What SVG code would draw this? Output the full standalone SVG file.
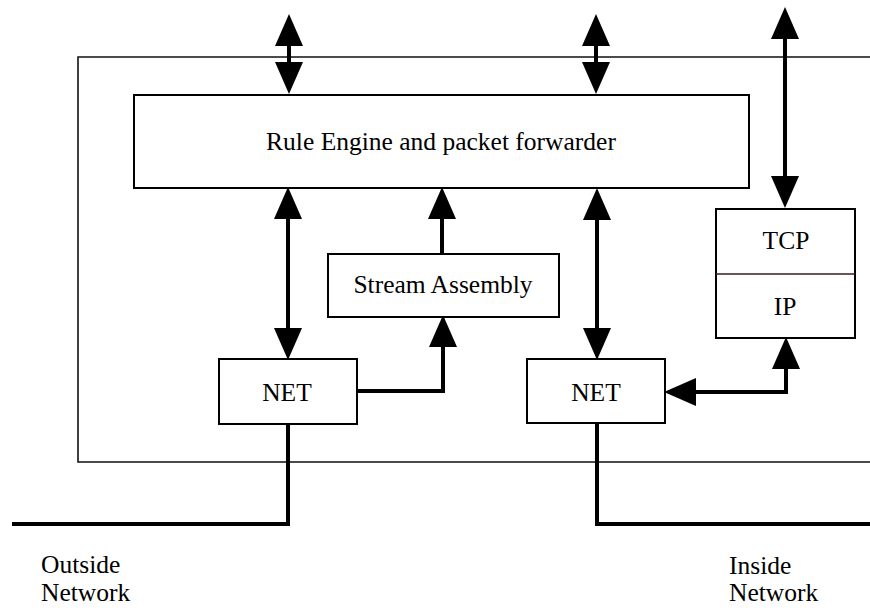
<svg xmlns="http://www.w3.org/2000/svg" width="870" height="608" viewBox="0 0 870 608">
<style>
.box{fill:#fff;stroke:#000;stroke-width:2}
text{font-family:'Liberation Serif','DejaVu Serif',serif;font-size:25.5px;fill:#000}
.mid{text-anchor:middle}
.conn{fill:none;stroke:#000;stroke-width:4}
.dbl{marker-start:url(#ah);marker-end:url(#ah)}
.one{marker-end:url(#ah)}
</style>
<defs>
<marker id="ah" markerUnits="userSpaceOnUse" markerWidth="34" markerHeight="30" refX="22" refY="14" orient="auto-start-reverse">
<path d="M0,0 L32,14 L0,28 z" fill="#000"/>
</marker>
</defs>
<rect width="870" height="608" fill="#fff"/>
<g id="frame">
<path d="M870,57 H78 V462 H870" fill="none" stroke="#111" stroke-width="1.6"/>
</g>
<g id="connectors">
<line class="conn dbl" x1="289" y1="24" x2="289" y2="84"/>
<line class="conn dbl" x1="596" y1="24" x2="596" y2="84"/>
<line class="conn dbl" x1="785" y1="17" x2="785" y2="198"/>
<line class="conn dbl" x1="288" y1="197" x2="288" y2="350"/>
<line class="conn one" x1="442" y1="254" x2="442" y2="197"/>
<path class="conn one" d="M357,391 H443 V325"/>
<line class="conn dbl" x1="597" y1="198" x2="597" y2="350"/>
<path class="conn dbl" d="M674,392 H786 V347"/>
<path class="conn" d="M288,424 V524 H12"/>
<path class="conn" d="M597,424 V524 H870"/>
</g>
<g id="rule-engine">
<rect class="box" x="134" y="95" width="615" height="93"/>
<text class="mid" x="441" y="150" font-family="Liberation Serif, DejaVu Serif, serif">Rule Engine and packet forwarder</text>
</g>
<g id="stream-assembly">
<rect class="box" x="328" y="254" width="231" height="63"/>
<text class="mid" x="443" y="293" font-family="Liberation Serif, DejaVu Serif, serif">Stream Assembly</text>
</g>
<g id="net-left">
<rect class="box" x="219" y="359" width="138" height="65"/>
<text class="mid" x="287" y="401" font-family="Liberation Serif, DejaVu Serif, serif">NET</text>
</g>
<g id="net-right">
<rect class="box" x="527" y="359" width="138" height="64"/>
<text class="mid" x="596" y="401" font-family="Liberation Serif, DejaVu Serif, serif">NET</text>
</g>
<g id="tcp-ip">
<rect class="box" x="716" y="209" width="139" height="129"/>
<line x1="716" y1="274" x2="855" y2="274" stroke="#3a1c1c" stroke-width="1.5"/>
<text class="mid" x="786" y="249" font-family="Liberation Serif, DejaVu Serif, serif">TCP</text>
<text class="mid" x="785" y="315" font-family="Liberation Serif, DejaVu Serif, serif">IP</text>
</g>
<g id="labels">
<text x="41" y="573" font-family="Liberation Serif, DejaVu Serif, serif">Outside</text>
<text x="41" y="601" font-family="Liberation Serif, DejaVu Serif, serif">Network</text>
<text x="729" y="574" font-family="Liberation Serif, DejaVu Serif, serif">Inside</text>
<text x="729" y="601" font-family="Liberation Serif, DejaVu Serif, serif">Network</text>
</g>
</svg>
